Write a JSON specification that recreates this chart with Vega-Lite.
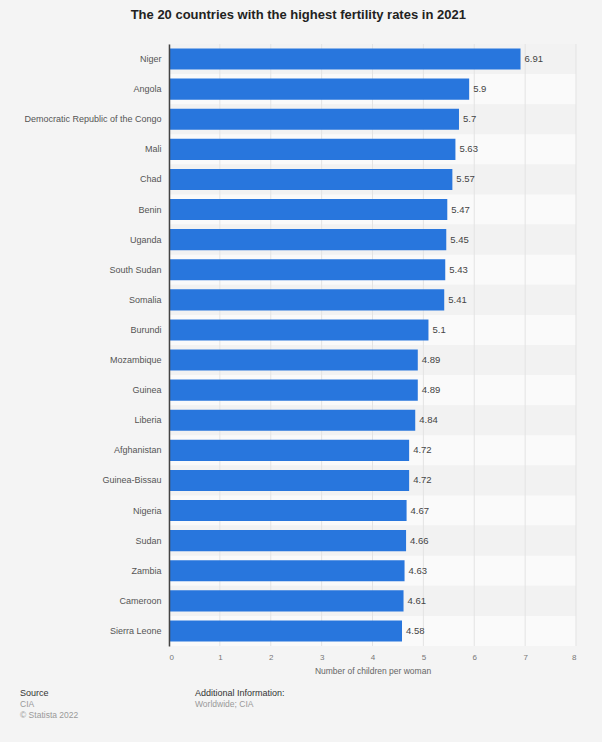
{
  "$schema": "https://vega.github.io/schema/vega-lite/v6.json",
  "background": "#f4f4f4",
  "padding": {"left": 20, "top": 8, "right": 25, "bottom": 5},
  "config": {"view": {"stroke": null}, "font": "Liberation Sans"},
  "title": {"text": "The 20 countries with the highest fertility rates in 2021", "fontSize": 13, "fontWeight": "bold", "color": "#222222", "anchor": "middle", "offset": 22, "font": "Liberation Sans"},
  "spacing": 14,
  "vconcat": [
    {
      "width": 407,
      "height": 602,
      "data": {"values": [
        {"country": "Niger", "rate": 6.91},
        {"country": "Angola", "rate": 5.9},
        {"country": "Democratic Republic of the Congo", "rate": 5.7},
        {"country": "Mali", "rate": 5.63},
        {"country": "Chad", "rate": 5.57},
        {"country": "Benin", "rate": 5.47},
        {"country": "Uganda", "rate": 5.45},
        {"country": "South Sudan", "rate": 5.43},
        {"country": "Somalia", "rate": 5.41},
        {"country": "Burundi", "rate": 5.1},
        {"country": "Mozambique", "rate": 4.89},
        {"country": "Guinea", "rate": 4.89},
        {"country": "Liberia", "rate": 4.84},
        {"country": "Afghanistan", "rate": 4.72},
        {"country": "Guinea-Bissau", "rate": 4.72},
        {"country": "Nigeria", "rate": 4.67},
        {"country": "Sudan", "rate": 4.66},
        {"country": "Zambia", "rate": 4.63},
        {"country": "Cameroon", "rate": 4.61},
        {"country": "Sierra Leone", "rate": 4.58}
      ]},
      "layer": [
        {
          "transform": [{"window": [{"op": "row_number", "as": "rank"}]}],
          "mark": {"type": "rect"},
          "encoding": {
            "y": {
              "field": "country", "type": "nominal", "sort": null,
              "scale": {"padding": 0},
              "axis": {"title": null, "ticks": false, "domain": true, "domainColor": "#444444", "domainWidth": 1.5, "labelFontSize": 9, "labelColor": "#555555", "labelPadding": 8, "minExtent": 144, "maxExtent": 144, "zindex": 1}
            },
            "x": {"datum": 0, "type": "quantitative", "scale": {"domain": [0, 8], "nice": false}},
            "x2": {"datum": 8},
            "color": {"condition": {"test": "datum.rank % 2 == 1", "value": "#f2f2f2"}, "value": "#fafafa"}
          }
        },
        {
          "data": {"values": [{"g": 0}, {"g": 1}, {"g": 2}, {"g": 3}, {"g": 4}, {"g": 5}, {"g": 6}, {"g": 7}, {"g": 8}]},
          "mark": {"type": "rule", "color": "#e3e3e3", "strokeWidth": 1},
          "encoding": {
            "x": {"field": "g", "type": "quantitative"}
          }
        },
        {
          "mark": {"type": "bar", "color": "#2876dd", "height": {"band": 0.7}},
          "encoding": {
            "y": {"field": "country", "type": "nominal", "sort": null},
            "x": {
              "field": "rate", "type": "quantitative",
              "axis": {"values": [0, 1, 2, 3, 4, 5, 6, 7, 8], "domain": false, "ticks": false, "grid": false, "labelFontSize": 8, "labelColor": "#777777", "labelPadding": 7, "title": "Number of children per woman", "titleFontSize": 8.5, "titleFontWeight": "normal", "titleColor": "#666666", "titlePadding": 5}
            }
          }
        },
        {
          "mark": {"type": "text", "align": "left", "dx": 4, "fontSize": 9.5, "color": "#444444"},
          "encoding": {
            "y": {"field": "country", "type": "nominal", "sort": null},
            "x": {"field": "rate", "type": "quantitative"},
            "text": {"field": "rate", "type": "quantitative", "format": "~g"}
          }
        }
      ]
    },
    {
      "spacing": 10,
      "hconcat": [
        {
          "width": 16, "height": 20,
          "data": {"values": []},
          "mark": "text",
          "title": {"text": "Source", "subtitle": ["CIA", "© Statista 2022"], "anchor": "start", "dx": -149, "fontSize": 9, "fontWeight": "normal", "color": "#333333", "subtitleColor": "#999999", "subtitleFontSize": 8.5, "subtitlePadding": 2}
        },
        {
          "width": 200, "height": 20,
          "data": {"values": []},
          "mark": "text",
          "title": {"text": "Additional Information:", "subtitle": ["Worldwide; CIA", " "], "anchor": "start", "fontSize": 9, "fontWeight": "normal", "color": "#333333", "subtitleColor": "#999999", "subtitleFontSize": 8.5, "subtitlePadding": 2}
        }
      ]
    }
  ]
}
